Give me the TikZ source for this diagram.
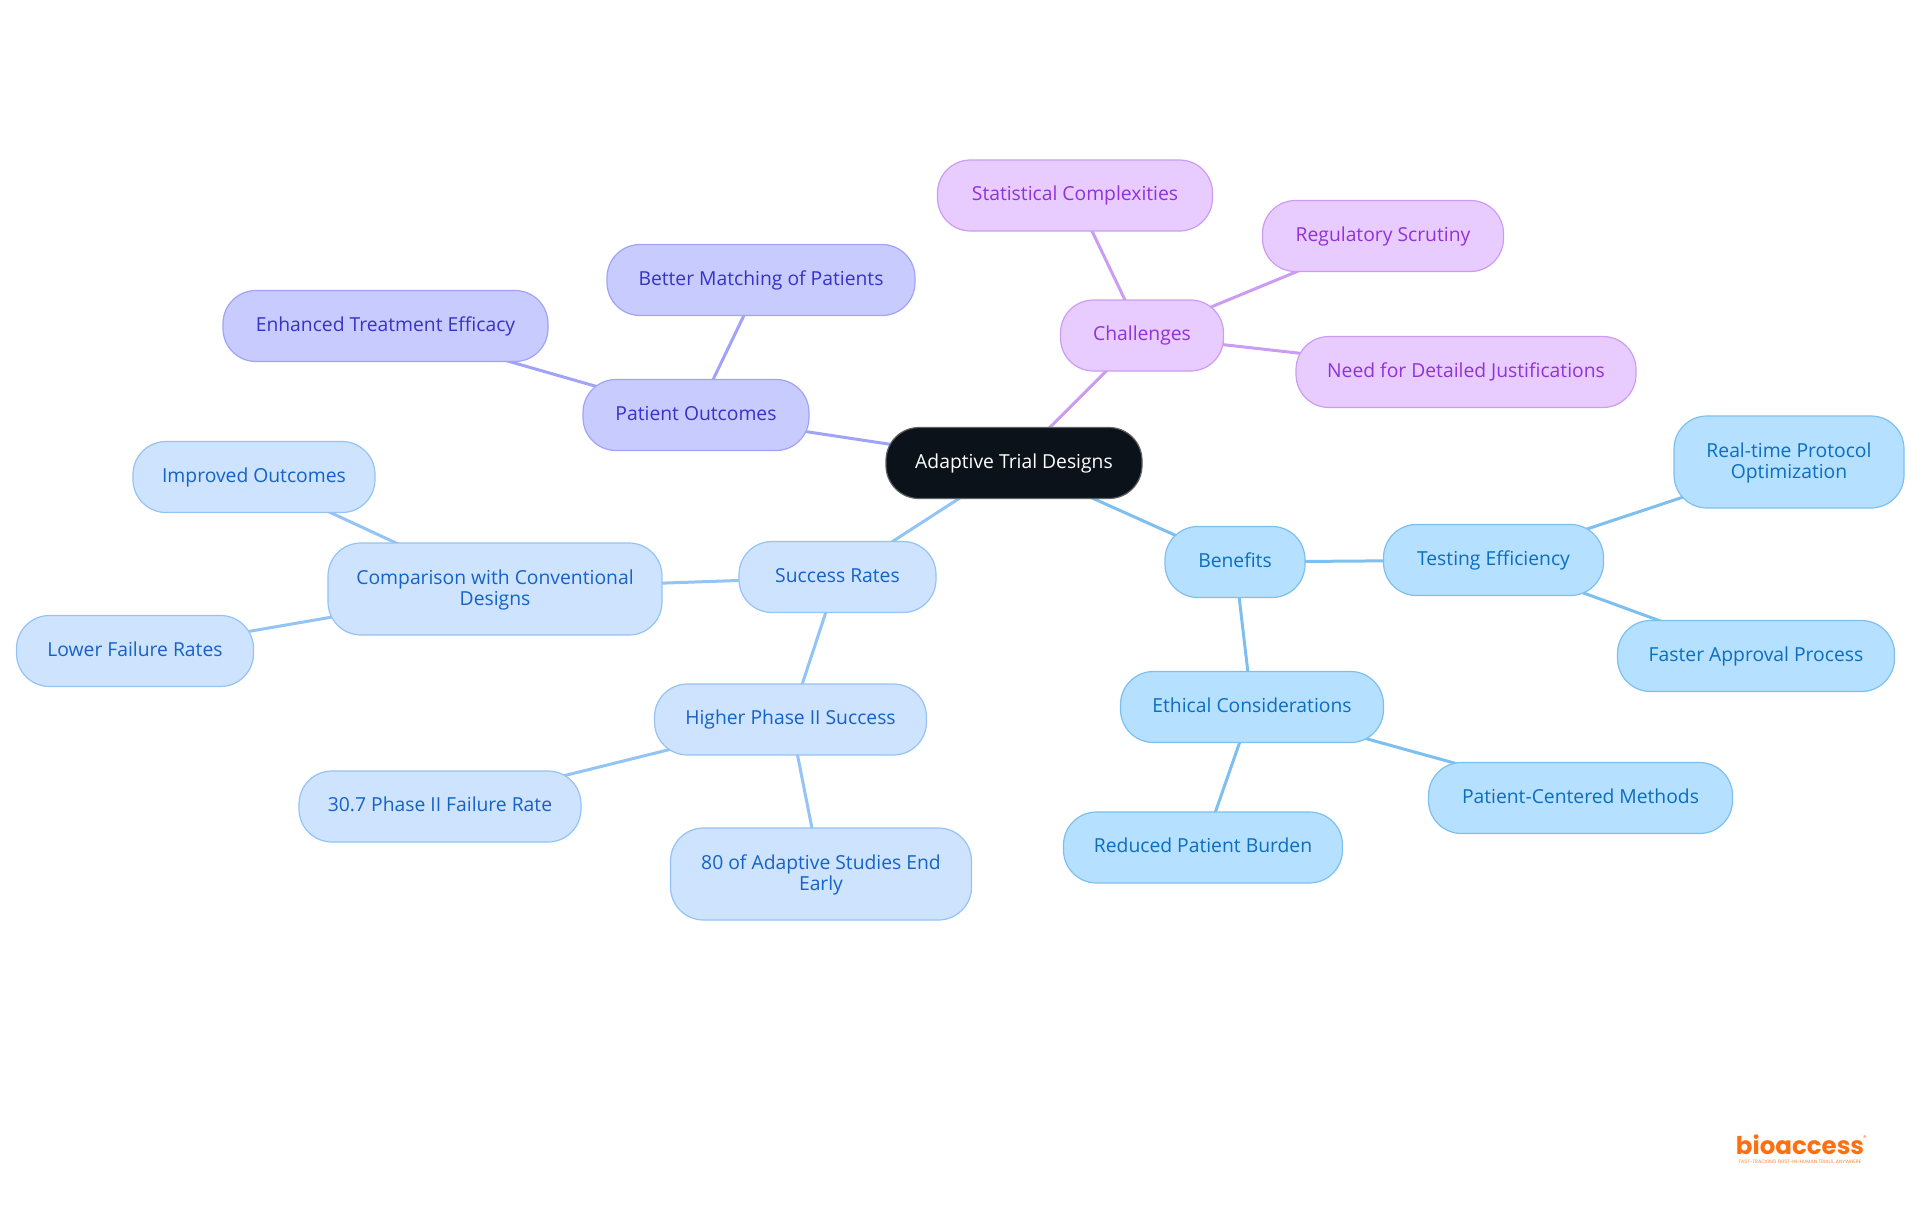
\documentclass[tikz,border=0pt]{standalone}
\usepackage{fontspec}
\setmainfont{Open Sans}
\newfontfamily\logofont{Poppins}
\usetikzlibrary{
  backgrounds,
}
\definecolor{rootfill}{RGB}{11, 18, 26}
\definecolor{benefitfill}{RGB}{181, 224, 255}
\definecolor{benefitline}{RGB}{125, 192, 240}
\definecolor{benefittext}{RGB}{11, 110, 192}
\definecolor{successfill}{RGB}{206, 227, 253}
\definecolor{successline}{RGB}{148, 195, 245}
\definecolor{successtext}{RGB}{21, 98, 200}
\definecolor{outcomefill}{RGB}{200, 203, 254}
\definecolor{outcomeline}{RGB}{160, 163, 247}
\definecolor{outcometext}{RGB}{55, 50, 200}
\definecolor{challengefill}{RGB}{232, 203, 255}
\definecolor{challengeline}{RGB}{204, 156, 242}
\definecolor{challengetext}{RGB}{145, 50, 216}
\definecolor{logoorange}{RGB}{255, 111, 15}
\tikzset{
  mapnode/.style={
    rectangle,
    rounded corners=33pt,
    line width=1.2pt,
    minimum height=71pt,
    inner xsep=0pt,
    inner ysep=0pt,
    text height=15.6pt,
    text depth=5pt,
    align=center,
    font=\fontsize{19.3}{21}\selectfont,
  },
  twolines/.style={minimum height=92pt, text height=38.4pt, text depth=5pt},
  rootnode/.style={mapnode, fill=rootfill, draw=gray!70!rootfill, text=white},
  benefitnode/.style={mapnode, fill=benefitfill, draw=benefitline, text=benefittext},
  successnode/.style={mapnode, fill=successfill, draw=successline, text=successtext},
  outcomenode/.style={mapnode, fill=outcomefill, draw=outcomeline, text=outcometext},
  challengenode/.style={mapnode, fill=challengefill, draw=challengeline, text=challengetext},
  benefitlink/.style={line width=3pt, draw=benefitline},
  successlink/.style={line width=3pt, draw=successline},
  outcomelink/.style={line width=3pt, draw=outcomeline},
  challengelink/.style={line width=3pt, draw=challengeline},
}

\begin{document}
\begin{tikzpicture}[x=1pt, y=-1pt]
  \useasboundingbox (0, 0) rectangle (1920, 1215);

  \node [rootnode, minimum width=256pt] (root) at (1014, 463) {Adaptive Trial Designs};

  \node [benefitnode, minimum width=140pt] (benefits) at (1235, 562) {Benefits};
  \node [benefitnode, minimum width=220pt] (testing) at (1493.5, 560) {Testing Efficiency};
  \node [benefitnode, twolines, minimum width=230pt] (realtime) at (1789, 462) {Real-time Protocol\\Optimization};
  \node [benefitnode, minimum width=277pt] (faster) at (1756, 656) {Faster Approval Process};
  \node [benefitnode, minimum width=263pt] (ethical) at (1252, 707) {Ethical Considerations};
  \node [benefitnode, minimum width=304pt] (centered) at (1580.5, 798) {Patient-Centered Methods};
  \node [benefitnode, minimum width=279pt] (burden) at (1203, 847.5) {Reduced Patient Burden};

  \node [successnode, minimum width=197pt] (success) at (837.5, 577) {Success Rates};
  \node [successnode, twolines, minimum width=334pt] (comparison) at (495, 589) {Comparison with Conventional\\Designs};
  \node [successnode, minimum width=242pt] (improved) at (254, 477) {Improved Outcomes};
  \node [successnode, minimum width=237pt] (lower) at (135, 651) {Lower Failure Rates};
  \node [successnode, minimum width=272pt] (higher) at (790.5, 719.5) {Higher Phase II Success};
  \node [successnode, minimum width=282pt] (failure) at (440, 806.5) {30.7 Phase II Failure Rate};
  \node [successnode, twolines, minimum width=301pt] (early) at (821, 874) {80 of Adaptive Studies End\\Early};

  \node [outcomenode, minimum width=226pt] (outcomes) at (696, 415) {Patient Outcomes};
  \node [outcomenode, minimum width=308pt] (matching) at (761, 280) {Better Matching of Patients};
  \node [outcomenode, minimum width=325pt] (efficacy) at (385.5, 326) {Enhanced Treatment Efficacy};

  \node [challengenode, minimum width=163pt] (challenges) at (1142, 335.5) {Challenges};
  \node [challengenode, minimum width=275pt] (statistical) at (1075, 195.5) {Statistical Complexities};
  \node [challengenode, minimum width=241pt] (regulatory) at (1383, 236) {Regulatory Scrutiny};
  \node [challengenode, minimum width=340pt] (justify) at (1466, 372) {Need for Detailed Justifications};

  % logo
  \node [text=logoorange, inner sep=0pt, font=\logofont\bfseries\fontsize{24.5}{26}\selectfont] (logo) at (1800, 1145) {bioaccess};
  \node [text=logoorange, inner sep=0pt, font=\logofont\fontsize{7}{8}\selectfont] (logomark) at (1865, 1138) {\textregistered};
  \node [text=logoorange!85, inner sep=0pt, font=\logofont\fontsize{4.85}{5}\selectfont] (tagline) at (1800, 1162) {FAST-TRACKING FIRST-IN-HUMAN TRIALS, ANYWHERE};

  \begin{scope}[on background layer]
    \draw [benefitlink] (root.center) -- (benefits.center);
    \draw [benefitlink] (benefits.center) -- (testing.center);
    \draw [benefitlink] (testing.center) -- (realtime.center);
    \draw [benefitlink] (testing.center) -- (faster.center);
    \draw [benefitlink] (benefits.center) -- (ethical.center);
    \draw [benefitlink] (ethical.center) -- (centered.center);
    \draw [benefitlink] (ethical.center) -- (burden.center);

    \draw [successlink] (root.center) -- (success.center);
    \draw [successlink] (success.center) -- (comparison.center);
    \draw [successlink] (comparison.center) -- (improved.center);
    \draw [successlink] (comparison.center) -- (lower.center);
    \draw [successlink] (success.center) -- (higher.center);
    \draw [successlink] (higher.center) -- (failure.center);
    \draw [successlink] (higher.center) -- (early.center);

    \draw [outcomelink] (root.center) -- (outcomes.center);
    \draw [outcomelink] (outcomes.center) -- (matching.center);
    \draw [outcomelink] (outcomes.center) -- (efficacy.center);

    \draw [challengelink] (root.center) -- (challenges.center);
    \draw [challengelink] (challenges.center) -- (statistical.center);
    \draw [challengelink] (challenges.center) -- (regulatory.center);
    \draw [challengelink] (challenges.center) -- (justify.center);
  \end{scope}
\end{tikzpicture}
\end{document}
